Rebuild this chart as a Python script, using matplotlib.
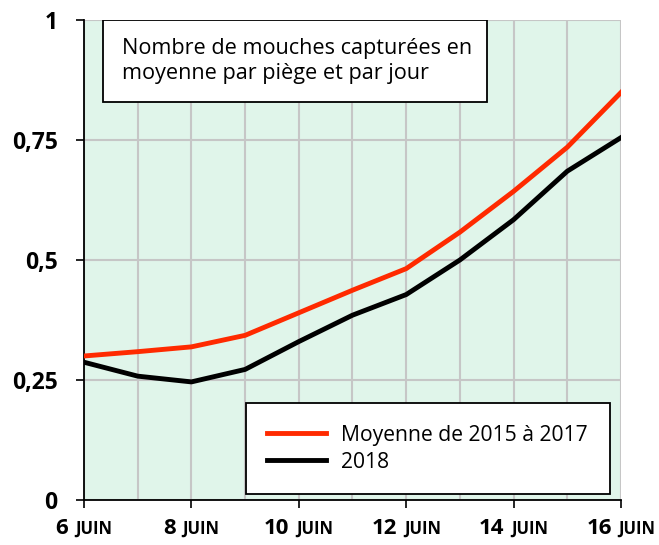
import matplotlib
matplotlib.use("Agg")
import matplotlib.pyplot as plt
from matplotlib.patches import Rectangle
from matplotlib.offsetbox import TextArea, HPacker, AnnotationBbox

plt.rcParams['font.family'] = ['Open Sans', 'DejaVu Sans']

# data
days = [6, 7, 8, 9, 10, 11, 12, 13, 14, 15, 16]
moyenne_2015_2017 = [0.300, 0.309, 0.319, 0.343, 0.390, 0.437, 0.482, 0.558, 0.643, 0.735, 0.849]
annee_2018 = [0.287, 0.258, 0.246, 0.272, 0.330, 0.385, 0.428, 0.500, 0.584, 0.685, 0.755]
xtick_days = [6, 8, 10, 12, 14, 16]
yticks = [0, 0.25, 0.5, 0.75, 1]
ytick_labels = ["0", "0,25", "0,5", "0,75", "1"]

fig = plt.figure(figsize=(6.59, 5.45), dpi=100)
ax = fig.add_axes([0.1275, 0.0826, 0.8148, 0.8807])
ax.set_facecolor("#E0F5EA")

ax.plot(days, moyenne_2015_2017, color="#FF2A00", lw=3.5, label="Moyenne de 2015 à 2017",
        solid_joinstyle="round", zorder=3)
ax.plot(days, annee_2018, color="black", lw=3.5, label="2018", solid_joinstyle="round", zorder=3)

ax.set_xlim(6, 16)
ax.set_ylim(0, 1)
ax.set_xticks(days, minor=True)
ax.set_xticks(xtick_days)
ax.set_xticklabels([])
ax.set_yticks(yticks)
ax.set_yticklabels(ytick_labels, fontsize=16.5, fontweight="bold")
ax.tick_params(axis="both", which="major", direction="out", length=6, width=1.2)
ax.tick_params(axis="y", which="major", pad=13)
ax.tick_params(axis="x", which="minor", length=0)
ax.grid(True, which="both", color="#C6C6C6", lw=1.5, zorder=0)
ax.grid(False, axis="y", which="minor")
for s in ["top", "right"]:
    ax.spines[s].set_visible(False)
for s in ["left", "bottom"]:
    ax.spines[s].set_linewidth(1.3)

# x labels: big day number + small "JUIN"
for d in xtick_days:
    pack = HPacker(children=[
        TextArea(str(d), textprops=dict(fontsize=16, fontweight="bold")),
        TextArea("JUIN", textprops=dict(fontsize=12, fontweight="bold")),
    ], align="baseline", pad=0, sep=5)
    ab = AnnotationBbox(pack, (d, 0), xycoords=("data", "axes fraction"),
                        xybox=(0, -13), boxcoords="offset points",
                        box_alignment=(0.5, 1), frameon=False, annotation_clip=False)
    ax.add_artist(ab)

# title box
ax.add_patch(Rectangle((0.035, 0.83), 0.715, 0.17, transform=ax.transAxes,
                       facecolor="white", edgecolor="black", lw=1.3, zorder=5))
ax.text(0.071, 0.914, "Nombre de mouches capturées en\nmoyenne par piège et par jour",
        transform=ax.transAxes, fontsize=15.6, va="center", ha="left",
        linespacing=1.25, zorder=6)

leg = ax.legend(loc="lower left", bbox_to_anchor=(0.302, 0.0125, 0.678, 0.1875),
                mode="expand", frameon=True, fancybox=False, fontsize=15.2,
                handlelength=2.8, handletextpad=0.7, borderpad=1.0,
                labelspacing=0.3, borderaxespad=0)
leg.get_frame().set_edgecolor("black")
leg.get_frame().set_linewidth(1.3)
leg.get_frame().set_alpha(1)
leg.set_zorder(6)

fig.savefig("out.png", dpi=100)
